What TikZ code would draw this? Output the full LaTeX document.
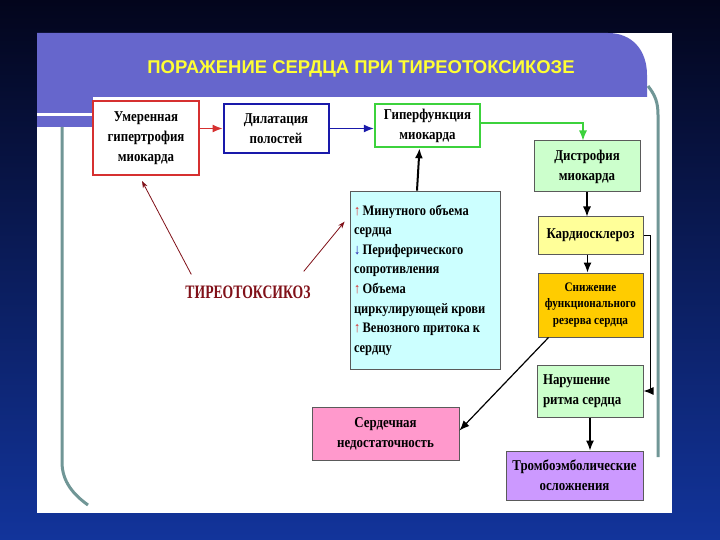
\documentclass[tikz,border=0pt]{standalone}
\usepackage{fontspec}
\setmainfont[FakeStretch=0.86]{Liberation Serif}
\newfontfamily\headfont{Liberation Sans}
\newfontfamily\narrowserif[FakeStretch=0.72]{Liberation Serif}
\usetikzlibrary{shapes,arrows,arrows.meta,positioning,calc,backgrounds,fit}
\definecolor{slidetop}{RGB}{3,5,28}
\definecolor{slidebottom}{RGB}{18,52,155}
\definecolor{headercolor}{RGB}{102,102,204}
\definecolor{titlecolor}{RGB}{255,255,51}
\definecolor{framecolor}{RGB}{112,150,150}
\definecolor{redborder}{RGB}{214,48,48}
\definecolor{blueborder}{RGB}{25,25,170}
\definecolor{greenborder}{RGB}{60,210,60}
\definecolor{mintfill}{RGB}{204,255,204}
\definecolor{lemonfill}{RGB}{255,255,153}
\definecolor{goldfill}{RGB}{255,204,0}
\definecolor{lilacfill}{RGB}{204,153,255}
\definecolor{pinkfill}{RGB}{255,153,204}
\definecolor{cyanfill}{RGB}{204,255,255}
\definecolor{toxcolor}{RGB}{128,16,24}
\definecolor{boxline}{RGB}{90,90,90}

\begin{document}
\begin{tikzpicture}[
x=1pt, y=-1pt,
stage/.style={draw=boxline, line width=1pt, align=center, inner sep=0pt,
  font=\bfseries\fontsize{15}{20}\selectfont},
link/.style={-{Latex[length=10pt,width=8pt]}, line width=1.2pt},
toxlink/.style={-{Stealth[length=7pt,width=5pt]}, line width=0.8pt, draw=toxcolor}
]
\shade[top color=slidetop, bottom color=slidebottom] (0,0) rectangle (720,540);
\useasboundingbox (0,0) rectangle (720,540);
\fill[white] (37,33) rectangle (672,513);

% header band
\fill[headercolor] (37,33) -- (608,33) .. controls (632,33) and (647,50) .. (647,75)
  -- (647,97) -- (37,97) -- cycle;
\fill[headercolor] (37,97) rectangle (93,127);
\draw[white, line width=2.5pt] (37,114.5) -- (93,114.5);
\draw[framecolor, line width=3pt] (62,127) -- (62,462) .. controls (62,482) and (74,495) .. (88,505);
\draw[framecolor, line width=3pt] (648,86) .. controls (655,95) and (658,102) .. (658,115) -- (658,457);

\node[
text=titlecolor,
font=\headfont\bfseries\fontsize{18.5}{22}\selectfont
] (title) at (361,69) {ПОРАЖЕНИЕ СЕРДЦА ПРИ ТИРЕОТОКСИКОЗЕ};

% top row
\node[stage, draw=redborder, line width=2pt, fill=white,
  minimum width=106pt, minimum height=74pt] (hypertrophy) at (146,138)
  {Умеренная\\гипертрофия\\миокарда};
\node[stage, draw=blueborder, line width=2pt, fill=white,
  minimum width=105pt, minimum height=49pt] (dilation) at (276,128.5)
  {Дилатация\\полостей};
\node[stage, draw=greenborder, line width=2.5pt, fill=white,
  minimum width=105pt, minimum height=43pt] (hyperfunc) at (427.5,125.5)
  {Гиперфункция\\миокарда};

% right column
\node[stage, fill=mintfill, minimum width=106pt, minimum height=51pt] (dystrophy) at (587,166.5)
  {Дистрофия\\миокарда};
\node[stage, fill=lemonfill, minimum width=105pt, minimum height=37pt] (sclerosis) at (590.5,235.5)
  {Кардиосклероз};
\node[stage, fill=goldfill, minimum width=105pt, minimum height=64pt,
  font=\bfseries\fontsize{13}{16.5}\selectfont] (reserve) at (590.5,305)
  {Снижение\\функционального\\резерва сердца};
\node[stage, fill=mintfill, minimum width=106pt, minimum height=52pt,
  text width=94pt, align=flush left] (arrhythmia) at (590,391)
  {Нарушение\\ритма сердца};
\node[stage, fill=lilacfill, minimum width=137pt, minimum height=49pt] (embolism) at (574.5,475.5)
  {Тромбоэмболические\\осложнения};
\node[stage, fill=pinkfill, minimum width=147pt, minimum height=53pt] (failure) at (385.5,433.5)
  {Сердечная\\недостаточность};

% factors
\node[
draw=boxline,
line width=0.8pt,
fill=cyanfill,
minimum width=150pt,
minimum height=178pt,
text width=142pt,
align=flush left,
inner sep=0pt,
font=\bfseries\fontsize{14.5}{19.6}\selectfont
] (factors) at (425,280)
{{\color{redborder}↑}\,Минутного объема\\
сердца\\
{\color{blueborder}↓}\,Периферического\\
сопротивления\\
{\color{redborder}↑}\,Объема\\
циркулирующей крови\\
{\color{redborder}↑}\,Венозного притока к\\
сердцу\\[6pt]};

\node[
text=toxcolor,
inner sep=0pt,
font=\narrowserif\bfseries\fontsize{19}{21}\selectfont
] (toxicosis) at (248,292) {ТИРЕОТОКСИКОЗ};

% connectors
\draw[link, redborder] (hypertrophy.east |- dilation.west) -- (dilation.west);
\draw[link, blueborder] (dilation.east) -- (hyperfunc.west |- dilation.east);
\draw[link, greenborder] (hyperfunc.east |- 0,123) -| ([xshift=-4pt]dystrophy.north);
\draw[link] (dystrophy.south) -- (dystrophy.south |- sclerosis.north);
\draw[link] ([xshift=-3pt]sclerosis.south) -- ([xshift=-3pt]reserve.north);
\draw[link] (sclerosis.east) -- ++(7,0) |- (arrhythmia.east);
\draw[link] (arrhythmia.south) -- (arrhythmia.south |- embolism.north);
\draw[link] ([xshift=11pt]reserve.south west) -- ([yshift=3pt]failure.east);
\draw[link, line width=2pt] ([xshift=-8pt]factors.north) -- ([xshift=-8pt]hyperfunc.south);
\draw[toxlink] ([shift={(6pt,11pt)}]toxicosis.north west) -- ([shift={(-4pt,-5pt)}]hypertrophy.south);
\draw[toxlink] ([shift={(-7pt,14pt)}]toxicosis.north east) -- ([shift={(-5pt,-31pt)}]factors.north west);
\end{tikzpicture}
\end{document}
